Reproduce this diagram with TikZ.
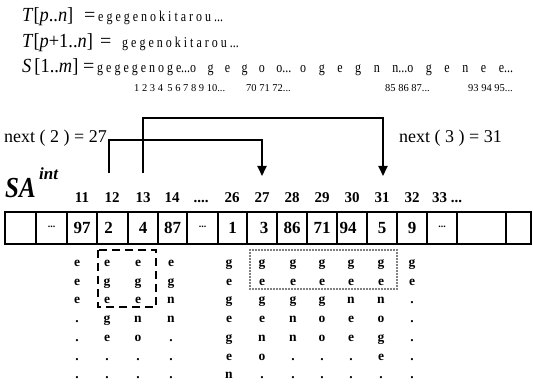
\documentclass[tikz,border=0pt]{standalone}
\usepackage{fontspec}
\setmainfont{Liberation Serif}
\usetikzlibrary{arrows.meta}

% font size helper
\newcommand{\fs}[1]{\fontsize{#1}{#1}\selectfont}
% horizontally condensed text
\newcommand{\cond}[2][0.8]{\scalebox{#1}[1]{#2}}
% small raised dots used in the array cells
\newcommand{\celldots}{\raisebox{3pt}{\fs{10}\textbf{...}}}
\newcommand{\fourdots}{....}
\newcommand{\lastidx}{33 ...}

\begin{document}
\begin{tikzpicture}[x=1pt,y=-1pt,
  txt/.style={inner sep=0pt,anchor=base west},
  eqn/.style={txt,font=\fs{20}},
  seq/.style={txt,font=\fs{15}},
  idx/.style={txt,font=\fs{10.5}},
  note/.style={inner sep=0pt,font=\fs{18}},
  hdr/.style={inner sep=0pt,anchor=base,font=\fs{15}\bfseries},
  cell/.style={draw,line width=1.2pt,minimum height=32pt,inner sep=0pt,font=\fs{17}\bfseries},
  chr/.style={inner sep=0pt,anchor=base,font=\fs{13.5}\bfseries},
  conn/.style={line width=2pt},
  tip/.style={-{Triangle[width=9pt,length=10pt]}},
  dashbox/.style={line width=1.6pt,dash pattern=on 8pt off 5pt},
  dotbox/.style={line width=1.6pt,dash pattern=on 0pt off 3pt,line cap=round}]
\useasboundingbox (0,0) rectangle (533,390);

% --- equations at the top ---
\node[eqn] (l1) at (22,22) {\cond[0.92]{\textit{T}[\textit{p}..\textit{n}]}};
\node[eqn] (e1) at (84,22) {=};
\node[seq] (s1) at (98,22) {\cond{e g e g e n o k i t a r o u ...}};
\node[eqn] (l2) at (22,48) {\cond[0.92]{\textit{T}[\textit{p}+1..\textit{n}]}};
\node[eqn] (e2) at (100,48) {=};
\node[seq] (s2) at (122,48) {\cond{g e g e n o k i t a r o u ...}};
\node[eqn] (l3) at (22,73) {\cond[0.92]{\textit{S}\,[1..\textit{m}]}};
\node[eqn] (e3) at (83,73) {=};
\node[seq] (s3a) at (97,73) {\cond{g e g e g e n o g e}};
\node[seq] (s3b) at (181,73) {\cond{\spaceskip=14.2pt\relax ...o g e g o o...}};
\node[seq] (s3c) at (300,73) {\cond{\spaceskip=15.7pt\relax o g e g n n...o g e n e e...}};
\node[idx] (n1) at (134,92) {1 2 3 4\, 5 6 7 8 9 10...};
\node[idx] (n2) at (246,92) {70 71 72...};
\node[idx] (n3) at (385,92) {85 86 87...};
\node[idx] (n4) at (468,92) {93 94 95...};

% --- next() labels ---
\node[note,anchor=base east] (nx2) at (107,143) {next ( 2 ) = 27};
\node[note,anchor=base west] (nx3) at (399,143) {next ( 3 ) = 31};

% --- SA^int label ---
\node[txt,font=\fs{29}\bfseries\itshape] (sa) at (5,198) {\cond[0.86]{SA}};
\node[txt,font=\fs{17}\bfseries\itshape] (int) at (39,180) {int};

% --- index row ---
\foreach \x/\t [count=\i] in {82/11,112/12,143/13,172/14,201/{\fourdots},232/26,262/27,292/28,322/29,352/30,382/31,412/32,447/{\lastidx}}
  \node[hdr] (h\i) at (\x,203) {\t};

% --- array cells ---
\foreach \l/\r/\t [count=\i] in {5/36/{},36/67/{\celldots},67/97/97,97/128/{\hspace*{-8pt}2},
  128/158/4,158/187/87,187/218/{\celldots},218/247/1,247/277/{\raisebox{-3pt}{\hspace*{4pt}3}},
  277/307/86,307/337/71,337/367/{\hspace*{-8pt}94},367/397/5,397/427/9,427/457/{\celldots},
  457/506/{},506/531/{}}
  \node[cell,minimum width={\r-\l}] (c\i) at ({(\l+\r)/2},228) {\t};

% --- suffix columns below the array ---
\foreach \x/\col [count=\j] in {77/{e,e,e,{.},{.},{.},{.}},107/{e,g,e,g,e,{.},{.}},138/{e,g,e,n,o,{.},{.}},
  171/{e,g,n,n,{.},{.},{.}},229/{g,e,g,e,g,e,n},262/{g,e,g,e,n,o,{.}},293/{g,e,g,n,n,{.},{.}},
  322/{g,e,g,o,o,{.},{.}},351/{g,e,n,e,e,{.},{.}},381/{g,e,n,o,g,e,{.}},412/{g,e,{.},{.},{.},{.},{.}}}
  \foreach \ch [count=\k] in \col
    \node[chr] (t\j-\k) at (\x,{262+18.7*(\k-1)+4.5}) {\ch};

% --- boxes marking the common prefixes ---
\draw[dashbox] (98,250) rectangle (156,307);
\draw[dotbox] (250,250) rectangle (397,289);

% --- next() links ---
\coordinate (src12) at (109,173);
\coordinate (src13) at (143,173);
\coordinate (dst27) at (262,176);
\coordinate (dst31) at (383,176);
\draw[conn,tip] (src12) -- ++(0,-33) -| (dst27);
\draw[conn,tip] (src13) -- ++(0,-55) -| (dst31);
\end{tikzpicture}
\end{document}
